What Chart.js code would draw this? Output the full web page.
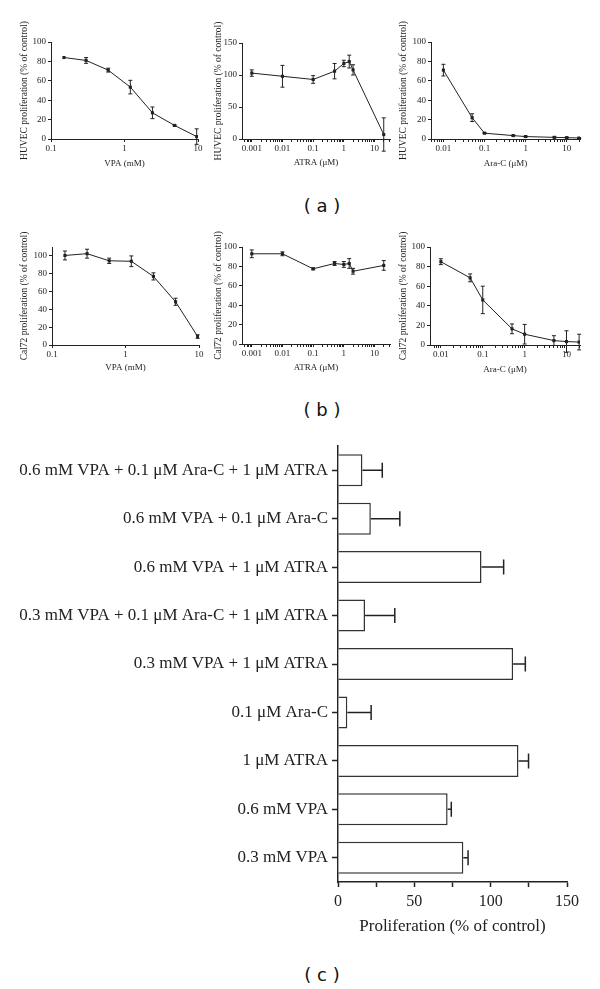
<!DOCTYPE html>
<html>
<head>
<meta charset="utf-8">
<script src="https://cdn.jsdelivr.net/npm/chart.js@4.4.1/dist/chart.umd.min.js"></script>
<style>
  html, body { margin: 0; padding: 0; background: #fff; }
  body { position: relative; width: 600px; height: 989px; overflow: hidden; }
  canvas { position: absolute; }
  .panel { position: absolute; width: 100px; margin-left: -50px; margin-top: -11px; line-height: 22px;
           text-align: center; font: 18px "DejaVu Sans", sans-serif; color: #111; }
</style>
</head>
<body>
<canvas id="a1"></canvas>
<canvas id="a2"></canvas>
<canvas id="a3"></canvas>
<canvas id="b1"></canvas>
<canvas id="b2"></canvas>
<canvas id="b3"></canvas>
<canvas id="c1"></canvas>
<div class="panel" style="left:322px; top:206px">( a )</div>
<div class="panel" style="left:322px; top:410px">( b )</div>
<div class="panel" style="left:322px; top:975px">( c )</div>
<script>
// doses
const vpaDose = [0.15, 0.3, 0.6, 1.2, 2.4, 4.8, 9.6];
const atraDose = [0.001, 0.01, 0.1, 0.5, 1, 1.5, 2, 20];
const aracDose = [0.01, 0.05, 0.1, 0.5, 1, 5, 10, 20];

// (a) HUVEC
const huvecVpa = [84, 81, 71, 53.5, 27, 14, 2.5];
const huvecVpaErr = [0, 3, 2, 7, 6, 0.5, 8];
const huvecAtra = [103, 98, 93, 106, 118, 121, 108, 7];
const huvecAtraErr = [5, 17, 6, 12, 5, 10, 8, 26];
const huvecArac = [71, 22, 6, 3.5, 2.5, 1.7, 1.4, 1];
const huvecAracErr = [6, 4, 0.5, 0.5, 0.5, 0.5, 0.5, 0.5];

// (b) Cal72
const cal72Vpa = [100.5, 102.5, 94.5, 94, 77, 48.5, 9.5];
const cal72VpaErr = [5, 5, 3, 6, 4, 4, 2];
const cal72Atra = [93, 93, 77.5, 83, 82, 83, 75, 81];
const cal72AtraErr = [4, 2, 1, 2, 3, 5, 3, 5];
const cal72Arac = [85, 68.5, 46, 16.5, 11, 4.5, 3.5, 3];
const cal72AracErr = [3, 4, 14, 5, 10, 5, 11, 8];

// (c) combinations
const combos = [
  '0.6 mM VPA + 0.1 μM Ara-C + 1 μM ATRA',
  '0.6 mM VPA + 0.1 μM Ara-C',
  '0.6 mM VPA + 1 μM ATRA',
  '0.3 mM VPA + 0.1 μM Ara-C + 1 μM ATRA',
  '0.3 mM VPA + 1 μM ATRA',
  '0.1 μM Ara-C',
  '1 μM ATRA',
  '0.6 mM VPA',
  '0.3 mM VPA',
];
const comboValues = [16, 21.5, 94, 17.7, 114.7, 6.1, 118.2, 71.8, 82.1];
const comboErr = [13, 19, 14.5, 19.5, 8, 15.6, 6.6, 2.4, 3.1];

const ink = '#222';
const serif = '"Liberation Serif", "Times New Roman", serif';

// draws the error bars of any dataset with an `errors` array
const errorBars = {
  id: 'errorBars',
  afterDatasetsDraw(chart) {
    const ctx = chart.ctx;
    const horizontal = chart.options.indexAxis === 'y';
    chart.data.datasets.forEach((ds, di) => {
      if (!ds.errors) return;
      const meta = chart.getDatasetMeta(di);
      ctx.save();
      ctx.strokeStyle = ink;
      ctx.lineWidth = ds.errorWidth || 1;
      meta.data.forEach((el, i) => {
        const e = ds.errors[i];
        if (!e) return;
        const cap = ds.errorCap / 2;
        ctx.beginPath();
        if (horizontal) {
          const xs = chart.scales.x;
          const x0 = xs.getPixelForValue(ds.data[i]);
          const x1 = xs.getPixelForValue(ds.data[i] + e);
          ctx.moveTo(x0, el.y); ctx.lineTo(x1, el.y);
          ctx.moveTo(x1, el.y - cap); ctx.lineTo(x1, el.y + cap);
        } else {
          const ys = chart.scales.y;
          const v = ds.data[i].y;
          const y0 = ys.getPixelForValue(v - e);
          const y1 = ys.getPixelForValue(v + e);
          ctx.moveTo(el.x, y0); ctx.lineTo(el.x, y1);
          ctx.moveTo(el.x - cap, y0); ctx.lineTo(el.x + cap, y0);
          ctx.moveTo(el.x - cap, y1); ctx.lineTo(el.x + cap, y1);
        }
        ctx.stroke();
      });
      ctx.restore();
    });
  }
};

const isDecade = (v) => {
  const l = Math.log10(v);
  return Math.abs(l - Math.round(l)) < 1e-6;
};
const decadeLabel = (v) => {
  const e = Math.round(Math.log10(v));
  return e >= 0 ? String(Math.pow(10, e)) : Math.pow(10, e).toFixed(-e);
};
const wholeMantissa = (v) => {
  const m = v / Math.pow(10, Math.floor(Math.log10(v) + 1e-9));
  return Math.abs(m - Math.round(m)) < 1e-6;
};

function doseChart(id, o) {
  const canvas = document.getElementById(id);
  const left = Math.round(o.titleX - 5.7);
  const top = o.plot.t - 30;
  const right = o.plot.r + 12;
  const bottom = Math.round(o.xTitleY + 5.4);
  const yW = o.plot.l - left;
  const xH = bottom - o.plot.b;
  canvas.width = right - left;
  canvas.height = bottom - top;
  canvas.style.left = left + 'px';
  canvas.style.top = top + 'px';
  canvas.style.width = (right - left) + 'px';
  canvas.style.height = (bottom - top) + 'px';

  const keepTick = o.minor ? wholeMantissa : isDecade;
  const tickFont = { family: serif, size: 9 };
  new Chart(canvas, {
    type: 'line',
    data: {
      datasets: [{
        data: o.doses.map((x, i) => ({ x, y: o.values[i] })),
        errors: o.errors,
        errorCap: 4,
        errorWidth: 1,
        borderColor: ink,
        borderWidth: 1,
        pointStyle: 'rect',
        pointRadius: 2.2,
        pointBackgroundColor: ink,
        pointBorderWidth: 0,
        tension: 0,
      }],
    },
    options: {
      responsive: false,
      animation: false,
      layout: { padding: { top: 30, right: 12, left: 0, bottom: 0 } },
      plugins: { legend: { display: false }, tooltip: { enabled: false } },
      scales: {
        x: {
          type: 'logarithmic',
          min: o.xMin,
          max: o.xMax,
          afterBuildTicks: (s) => { s.ticks = s.ticks.filter((t) => keepTick(t.value)); },
          afterFit: (s) => { s.height = xH; s.paddingLeft = 0; s.paddingRight = 0; },
          ticks: {
            autoSkip: false, maxRotation: 0, font: tickFont, color: ink, padding: 1,
            callback: (v) => (isDecade(v) ? decadeLabel(v) : ''),
          },
          grid: { drawOnChartArea: false, tickLength: 3, tickColor: ink },
          border: { color: ink, width: 1 },
          title: { display: true, text: o.xTitle, font: { family: serif, size: 9 }, color: ink, padding: 0 },
        },
        y: {
          type: 'linear',
          min: 0,
          max: o.yMax,
          bounds: 'data',
          afterBuildTicks: (s) => { s.ticks = s.ticks.filter((t) => t.value % o.yStep === 0); },
          afterFit: (s) => { s.width = yW; s.paddingTop = 0; s.paddingBottom = 0; },
          ticks: { stepSize: o.yStep, font: tickFont, color: ink, padding: 2 },
          grid: { drawOnChartArea: false, tickLength: 3, tickColor: ink },
          border: { color: ink, width: 1 },
          title: { display: true, text: o.yTitle, font: { family: serif, size: 9.5 }, color: ink, padding: 0 },
        },
      },
    },
    plugins: [errorBars],
  });
}

const huvecTitle = 'HUVEC proliferation (% of control)';
const cal72Title = 'Cal72 proliferation (% of control)';

doseChart('a1', { doses: vpaDose, values: huvecVpa, errors: huvecVpaErr, xMin: 0.1, xMax: 10, yMax: 100, yStep: 20, minor: false,
  plot: { l: 51, t: 42, r: 198, b: 139 }, titleX: 25, xTitleY: 163.3, yTitle: huvecTitle, xTitle: 'VPA (mM)' });
doseChart('a2', { doses: atraDose, values: huvecAtra, errors: huvecAtraErr, xMin: 0.00048, xMax: 32, yMax: 150, yStep: 50, minor: true,
  plot: { l: 242, t: 43, r: 390, b: 139 }, titleX: 219, xTitleY: 162.5, yTitle: huvecTitle, xTitle: 'ATRA (μM)' });
doseChart('a3', { doses: aracDose, values: huvecArac, errors: huvecAracErr, xMin: 0.005, xMax: 21, yMax: 100, yStep: 20, minor: true,
  plot: { l: 431, t: 42, r: 580, b: 139 }, titleX: 404, xTitleY: 163.3, yTitle: huvecTitle, xTitle: 'Ara-C (μM)' });
doseChart('b1', { doses: vpaDose, values: cal72Vpa, errors: cal72VpaErr, xMin: 0.1, xMax: 10, yMax: 110, yStep: 20, minor: false,
  plot: { l: 52, t: 247, r: 199, b: 345 }, titleX: 25, xTitleY: 368, yTitle: cal72Title, xTitle: 'VPA (mM)' });
doseChart('b2', { doses: atraDose, values: cal72Atra, errors: cal72AtraErr, xMin: 0.00048, xMax: 32, yMax: 100, yStep: 20, minor: true,
  plot: { l: 242, t: 247, r: 390, b: 344 }, titleX: 219, xTitleY: 367.5, yTitle: cal72Title, xTitle: 'ATRA (μM)' });
doseChart('b3', { doses: aracDose, values: cal72Arac, errors: cal72AracErr, xMin: 0.0055, xMax: 21, yMax: 100, yStep: 20, minor: true,
  plot: { l: 430, t: 247, r: 580, b: 345 }, titleX: 404, xTitleY: 370, yTitle: cal72Title, xTitle: 'Ara-C (μM)' });

// (c) bar chart
const barCanvas = document.getElementById('c1');
barCanvas.width = 592;
barCanvas.height = 501;
barCanvas.style.left = '0px';
barCanvas.style.top = '436px';
barCanvas.style.width = '592px';
barCanvas.style.height = '501px';

new Chart(barCanvas, {
  type: 'bar',
  data: {
    labels: combos,
    datasets: [{
      data: comboValues,
      errors: comboErr,
      errorCap: 15,
      errorWidth: 1.5,
      backgroundColor: '#fff',
      borderColor: '#333',
      borderWidth: 1.5,
      barPercentage: 0.66,
      categoryPercentage: 1,
    }],
  },
  options: {
    indexAxis: 'y',
    responsive: false,
    animation: false,
    layout: { padding: { top: 10, right: 25, left: 0, bottom: 0 } },
    plugins: { legend: { display: false }, tooltip: { enabled: false } },
    scales: {
      x: {
        min: 0,
        max: 150,
        afterFit: (s) => { s.height = 55; s.paddingLeft = 0; s.paddingRight = 0; },
        ticks: {
          stepSize: 25, autoSkip: false, maxRotation: 0, padding: 5,
          font: { family: serif, size: 16 }, color: ink,
          callback: (v) => (v % 50 === 0 ? String(v) : ''),
        },
        grid: { drawOnChartArea: false, tickLength: 5, tickColor: ink, tickWidth: 1.5 },
        border: { color: ink, width: 1.5 },
        title: { display: true, text: 'Proliferation (% of control)', font: { family: serif, size: 17 }, color: ink, padding: 0 },
      },
      y: {
        afterFit: (s) => { s.width = 338; s.paddingTop = 0; s.paddingBottom = 0; },
        ticks: { autoSkip: false, padding: 4, font: { family: serif, size: 17 }, color: ink },
        grid: { drawOnChartArea: false, offset: false, tickLength: 6, tickColor: ink, tickWidth: 1.5 },
        border: { color: ink, width: 1.5 },
      },
    },
  },
  plugins: [errorBars],
});
</script>
</body>
</html>
